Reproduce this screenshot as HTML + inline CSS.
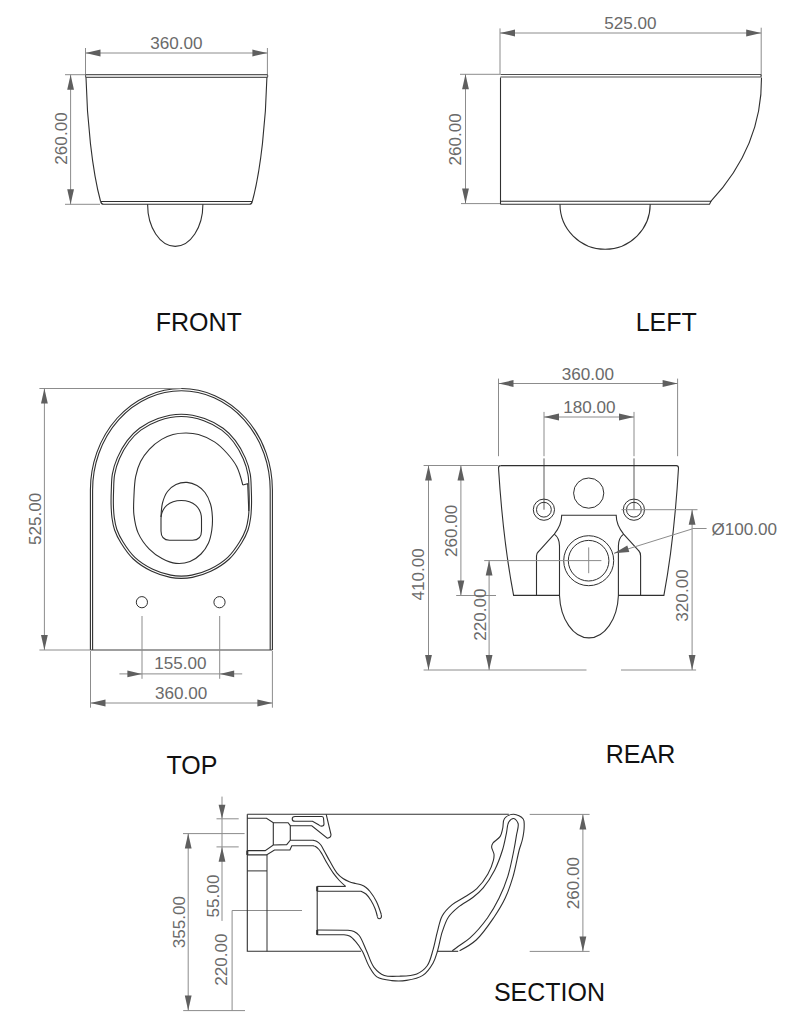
<!DOCTYPE html>
<html><head><meta charset="utf-8"><style>
html,body{margin:0;padding:0;background:#fff;}
svg{display:block;font-family:"Liberation Sans",sans-serif;}
</style></head><body>
<svg width="812" height="1024" viewBox="0 0 812 1024">
<rect width="812" height="1024" fill="#fff"/>
<line x1="85.5" y1="48" x2="85.5" y2="75" stroke="#8c8c8c" stroke-width="1"/>
<line x1="267.4" y1="48" x2="267.4" y2="75" stroke="#8c8c8c" stroke-width="1"/>
<line x1="85.5" y1="53" x2="267.4" y2="53" stroke="#8c8c8c" stroke-width="1"/>
<polygon points="85.5,53 100.5,56.4 100.5,49.6" fill="#5f5f5f"/>
<polygon points="267.4,53 252.4,49.6 252.4,56.4" fill="#5f5f5f"/>
<text x="176.3" y="48.8" font-size="17.1" fill="#6a6a6a" text-anchor="middle">360.00</text>
<line x1="65" y1="74.7" x2="86" y2="74.7" stroke="#8c8c8c" stroke-width="1"/>
<line x1="65" y1="204.3" x2="100" y2="204.3" stroke="#8c8c8c" stroke-width="1"/>
<line x1="70.6" y1="74.7" x2="70.6" y2="204.3" stroke="#8c8c8c" stroke-width="1"/>
<polygon points="70.6,74.7 67.2,89.7 74,89.7" fill="#5f5f5f"/>
<polygon points="70.6,204.3 74,189.3 67.2,189.3" fill="#5f5f5f"/>
<text x="0" y="0" font-size="17.1" fill="#6a6a6a" text-anchor="middle" transform="translate(67.3,138.5) rotate(-90)">260.00</text>
<path d="M86,74.5 L267,74.5 Q268.5,76 267,77.5 L86,77.5 Q85,76 86,74.5Z" stroke="#5a5a5a" stroke-width="1.1" fill="#d4d4d4" />
<path d="M86,77.5 C87,120 92,170 100.6,201.5" stroke="#303030" stroke-width="1.1" fill="none" />
<path d="M266.9,77.5 C265.9,120 260.9,170 252.3,201.5" stroke="#303030" stroke-width="1.1" fill="none" />
<path d="M100.6,201.5 L252.3,201.5" stroke="#303030" stroke-width="1.1" fill="none" />
<path d="M100.6,201.5 Q101.5,204.3 103.5,204.3 L249.5,204.3 Q251.5,204.3 252.3,201.5" stroke="#303030" stroke-width="1.1" fill="none" />
<path d="M147.6,204.3 A27.65,42.1 0 0 0 202.9,204.3" stroke="#303030" stroke-width="1.1" fill="none" />
<text x="198.8" y="331.3" font-size="25" fill="#111111" text-anchor="middle">FRONT</text>
<line x1="500" y1="28.4" x2="500" y2="74.3" stroke="#8c8c8c" stroke-width="1"/>
<line x1="761.2" y1="27.7" x2="761.2" y2="76.5" stroke="#8c8c8c" stroke-width="1"/>
<line x1="500" y1="33" x2="761.2" y2="33" stroke="#8c8c8c" stroke-width="1"/>
<polygon points="500,33 515,36.4 515,29.6" fill="#5f5f5f"/>
<polygon points="761.2,33 746.2,29.6 746.2,36.4" fill="#5f5f5f"/>
<text x="630.3" y="28.8" font-size="17.1" fill="#6a6a6a" text-anchor="middle">525.00</text>
<line x1="460" y1="74.3" x2="500" y2="74.3" stroke="#8c8c8c" stroke-width="1"/>
<line x1="461" y1="203.6" x2="500" y2="203.6" stroke="#8c8c8c" stroke-width="1"/>
<line x1="465.5" y1="74.3" x2="465.5" y2="203.6" stroke="#8c8c8c" stroke-width="1"/>
<polygon points="465.5,74.3 462.1,89.3 468.9,89.3" fill="#5f5f5f"/>
<polygon points="465.5,203.6 468.9,188.6 462.1,188.6" fill="#5f5f5f"/>
<text x="0" y="0" font-size="17.1" fill="#6a6a6a" text-anchor="middle" transform="translate(461.2,139.4) rotate(-90)">260.00</text>
<path d="M500.5,74.5 L760.5,74.5 Q762,75.8 760.5,77 L500.5,77" stroke="#505050" stroke-width="1.1" fill="none" />
<path d="M500.5,77.5 L500.5,204.3" stroke="#303030" stroke-width="1.1" fill="none" />
<path d="M761.5,77.5 C762,130 740,170 711,201.2" stroke="#303030" stroke-width="1.1" fill="none" />
<path d="M500.5,201.2 L711,201.2 L709.5,204.3 L500.5,204.3" stroke="#303030" stroke-width="1.1" fill="none" />
<path d="M560,204.3 A45.1,45 0 0 0 650.2,204.3" stroke="#303030" stroke-width="1.1" fill="none" />
<text x="666.2" y="331.4" font-size="25" fill="#111111" text-anchor="middle">LEFT</text>
<path d="M90.4,650 L90.4,490 A91,101.5 0 0 1 272.4,490 L272.4,650" stroke="#303030" stroke-width="1.1" fill="none" />
<path d="M92.6,650 L92.6,490 A88.8,99.3 0 0 1 270.2,490 L270.2,650" stroke="#303030" stroke-width="1.1" fill="none" />
<line x1="90.4" y1="650" x2="272.4" y2="650" stroke="#404040" stroke-width="1.2"/>
<path d="M181.3,414.2 C189.07,414.2 197.46,416.01 204.6,418.5 C211.32,420.84 217.81,424.39 223.1,428.3 C227.93,431.86 231.79,435.88 235.4,440.6 C239.26,445.65 242.79,452.11 245.3,457.9 C247.6,463.21 249.2,468.5 250.2,473.9 C251.18,479.2 251.08,484.73 251.3,490 C251.51,495.09 251.63,500.18 251.5,505 C251.37,509.49 251.2,513.77 250.6,518 C250.02,522.1 249.39,526.01 248,530 C246.49,534.34 244.35,538.58 241.6,543 C238.36,548.21 234.27,554.36 229.3,559 C224.09,563.87 217.18,568.2 210.8,571.3 C204.82,574.21 197.73,576.27 192.3,577.4 C188.21,578.25 184.97,578.4 181.3,578.4 C177.63,578.4 174.39,578.25 170.3,577.4 C164.87,576.27 157.78,574.21 151.8,571.3 C145.42,568.2 138.51,563.87 133.3,559 C128.33,554.36 124.24,548.21 121,543 C118.25,538.58 116.11,534.34 114.6,530 C113.21,526.01 112.58,522.1 112,518 C111.4,513.77 111.23,509.49 111.1,505 C110.97,500.18 111.09,495.09 111.3,490 C111.52,484.73 111.42,479.2 112.4,473.9 C113.4,468.5 115,463.21 117.3,457.9 C119.81,452.11 123.34,445.65 127.2,440.6 C130.81,435.88 134.67,431.86 139.5,428.3 C144.79,424.39 151.28,420.84 158,418.5 C165.14,416.01 173.53,414.2 181.3,414.2Z" stroke="#303030" stroke-width="1.1" fill="none" />
<path d="M181.3,416.5 C188.82,416.5 196.95,418.27 203.86,420.68 C210.36,422.94 216.65,426.39 221.76,430.17 C226.4,433.6 230.09,437.43 233.56,441.98 C237.31,446.89 240.76,453.2 243.2,458.83 C245.42,463.98 246.97,469.08 247.94,474.32 C248.89,479.5 248.79,484.92 249,490.1 C249.2,495.12 249.33,500.19 249.2,504.94 C249.08,509.35 248.91,513.56 248.32,517.68 C247.76,521.64 247.17,525.38 245.84,529.22 C244.38,533.4 242.32,537.48 239.67,541.75 C236.53,546.81 232.56,552.8 227.74,557.31 C222.69,562.03 215.98,566.23 209.78,569.24 C203.96,572.06 197.01,574.08 191.76,575.16 C187.86,575.97 184.79,576.1 181.3,576.1 C177.81,576.1 174.74,575.97 170.84,575.16 C165.59,574.08 158.64,572.06 152.82,569.24 C146.62,566.23 139.91,562.03 134.86,557.31 C130.04,552.8 126.07,546.81 122.93,541.75 C120.28,537.48 118.22,533.4 116.76,529.22 C115.43,525.38 114.84,521.64 114.28,517.68 C113.69,513.56 113.52,509.35 113.4,504.94 C113.27,500.19 113.4,495.12 113.6,490.1 C113.81,484.92 113.71,479.5 114.66,474.32 C115.63,469.08 117.18,463.98 119.4,458.83 C121.84,453.2 125.29,446.89 129.04,441.98 C132.51,437.43 136.2,433.6 140.84,430.17 C145.95,426.39 152.24,422.94 158.74,420.68 C165.65,418.27 173.78,416.5 181.3,416.5Z" stroke="#303030" stroke-width="1.1" fill="none" />
<path d="M242.8,485 C242.8,485 239.53,471.99 236.7,466.5 C234.08,461.41 230.51,457.11 226.8,453 C223.11,448.91 219.13,444.96 214.5,441.9 C209.73,438.75 203.59,435.95 198.5,434.5 C194.23,433.28 190.37,433.02 186.2,433 C181.88,432.98 177.16,433.39 173,434.5 C168.98,435.57 165.32,437.16 161.6,439.4 C157.4,441.93 152.83,445.55 149.3,449.3 C145.85,452.97 142.86,457.13 140.6,461.6 C138.3,466.15 136.82,470.97 135.7,476.4 C134.4,482.7 134.19,490.66 133.9,497.3 C133.64,503.33 133.23,508.78 133.9,514.6 C134.6,520.7 135.66,527.38 138.2,533.1 C140.77,538.89 145.07,544.74 149.3,549.1 C153.11,553.03 157.47,556.1 162,558.5 C166.39,560.82 171.28,562.92 176,563.4 C180.61,563.87 185.78,563.12 190,561.5 C194.09,559.93 197.92,557.08 201,554 C204.08,550.92 206.7,546.99 208.5,543 C210.31,538.99 211.15,534.37 211.8,530 C212.44,525.7 212.61,521.32 212.4,517 C212.18,512.66 211.75,508.11 210.5,504 C209.27,499.95 207.4,495.67 205,492.5 C202.81,489.61 200.01,487.18 197,485.5 C194.01,483.83 190.44,482.59 187,482.4 C183.44,482.2 179.26,482.97 176,484.5 C172.77,486.02 169.72,488.56 167.5,491.5 C165.13,494.64 163.59,498.89 162.5,503 C161.35,507.36 161,517 161,517" stroke="#303030" stroke-width="1.1" fill="none" />
<path d="M242.8,485 L247.7,483.7 L248.8,511" stroke="#303030" stroke-width="1.1" fill="none" />
<path d="M181.3,500.5 C193,500.5 201.5,507.5 201.5,519 L201.5,531 Q201.5,540.2 192.5,540.2 L169.5,540.2 Q161,540.2 161,531 L161,519 C161,507.5 169.5,500.5 181.3,500.5 Z" stroke="#303030" stroke-width="1.1" fill="none" />
<circle cx="141.9" cy="602.2" r="5.6" stroke="#303030" fill="none"/>
<circle cx="219.5" cy="602.2" r="5.6" stroke="#303030" fill="none"/>
<line x1="142" y1="616" x2="142" y2="678.8" stroke="#8c8c8c" stroke-width="1"/>
<line x1="219.7" y1="616" x2="219.7" y2="678.8" stroke="#8c8c8c" stroke-width="1"/>
<line x1="119.4" y1="673.9" x2="242.2" y2="673.9" stroke="#8c8c8c" stroke-width="1"/>
<polygon points="142,673.9 127.4,670.5 127.4,677.3" fill="#5f5f5f"/>
<polygon points="219.7,673.9 234.2,677.3 234.2,670.5" fill="#5f5f5f"/>
<text x="180.5" y="669.2" font-size="17.1" fill="#6a6a6a" text-anchor="middle">155.00</text>
<line x1="90.5" y1="651" x2="90.5" y2="707.7" stroke="#8c8c8c" stroke-width="1"/>
<line x1="272.4" y1="651" x2="272.4" y2="707.7" stroke="#8c8c8c" stroke-width="1"/>
<line x1="90.5" y1="703" x2="272.4" y2="703" stroke="#8c8c8c" stroke-width="1"/>
<polygon points="90.5,703 105.5,706.4 105.5,699.6" fill="#5f5f5f"/>
<polygon points="272.4,703 257.4,699.6 257.4,706.4" fill="#5f5f5f"/>
<text x="181.1" y="698.5" font-size="17.1" fill="#6a6a6a" text-anchor="middle">360.00</text>
<line x1="39.4" y1="388.5" x2="181.4" y2="388.5" stroke="#8c8c8c" stroke-width="1"/>
<line x1="39.4" y1="650" x2="90.4" y2="650" stroke="#8c8c8c" stroke-width="1"/>
<line x1="44.4" y1="388.5" x2="44.4" y2="650" stroke="#8c8c8c" stroke-width="1"/>
<polygon points="44.4,388.5 41,403.5 47.8,403.5" fill="#5f5f5f"/>
<polygon points="44.4,650 47.8,635 41,635" fill="#5f5f5f"/>
<text x="0" y="0" font-size="17.1" fill="#6a6a6a" text-anchor="middle" transform="translate(40.5,518.9) rotate(-90)">525.00</text>
<text x="191.9" y="773.8" font-size="25" fill="#111111" text-anchor="middle">TOP</text>
<line x1="498.5" y1="378.6" x2="498.5" y2="456.2" stroke="#8c8c8c" stroke-width="1"/>
<line x1="677.6" y1="378.6" x2="677.6" y2="456.2" stroke="#8c8c8c" stroke-width="1"/>
<line x1="498.5" y1="383.5" x2="677.6" y2="383.5" stroke="#8c8c8c" stroke-width="1"/>
<polygon points="498.5,383.5 513.5,386.9 513.5,380.1" fill="#5f5f5f"/>
<polygon points="677.6,383.5 662.6,380.1 662.6,386.9" fill="#5f5f5f"/>
<text x="588" y="380.2" font-size="17.1" fill="#6a6a6a" text-anchor="middle">360.00</text>
<line x1="544" y1="411.9" x2="544" y2="456.2" stroke="#8c8c8c" stroke-width="1"/>
<line x1="634" y1="411.9" x2="634" y2="456.2" stroke="#8c8c8c" stroke-width="1"/>
<line x1="544" y1="458.4" x2="544" y2="509.7" stroke="#5a5a5a" stroke-width="1"/>
<line x1="634" y1="458.4" x2="634" y2="509.7" stroke="#5a5a5a" stroke-width="1"/>
<line x1="544" y1="417" x2="634" y2="417" stroke="#8c8c8c" stroke-width="1"/>
<polygon points="544,417 559,420.4 559,413.6" fill="#5f5f5f"/>
<polygon points="634,417 619,413.6 619,420.4" fill="#5f5f5f"/>
<text x="589.5" y="413.4" font-size="17.1" fill="#6a6a6a" text-anchor="middle">180.00</text>
<path d="M500.5,465.6 L676.3,465.6 Q678.5,465.6 678.5,468 Q674.2,540 663.9,595.4 L618.4,595.4" stroke="#303030" stroke-width="1.1" fill="none" />
<path d="M500.5,465.6 Q498.5,465.6 498.5,468 Q503,540 513.6,595.4 L559.5,595.4" stroke="#303030" stroke-width="1.1" fill="none" />
<circle cx="543.9" cy="509.7" r="10.6" stroke="#303030" fill="none"/>
<circle cx="543.9" cy="509.7" r="7.4" stroke="#303030" fill="none"/>
<circle cx="633.9" cy="509.7" r="10.6" stroke="#303030" fill="none"/>
<circle cx="633.9" cy="509.7" r="7.4" stroke="#303030" fill="none"/>
<circle cx="588.7" cy="493.1" r="15.1" stroke="#303030" fill="none"/>
<circle cx="588.7" cy="560.7" r="25" stroke="#303030" fill="none"/>
<circle cx="588.6" cy="560.7" r="20.3" stroke="#303030" fill="none"/>
<path d="M536.5,595.4 L536.5,556 Q536.5,553.3 538.5,551.5 L554.3,534.1 Q561.7,525 561.7,515.3 L616.2,515.3 Q616.2,525 623.6,534.1 L638.6,550.5 Q640.6,552.5 640.6,556 L640.6,595.4" stroke="#303030" stroke-width="1.1" fill="none" />
<path d="M554.3,534.1 Q559.5,538 559.5,546 L559.5,595.4 A29.5,45.1 0 0 0 618.4,595.4 L618.4,546 Q618.4,538 623.6,534.1" stroke="#303030" stroke-width="1.1" fill="none" />
<line x1="484.2" y1="560.6" x2="601.4" y2="560.6" stroke="#8c8c8c" stroke-width="1"/>
<line x1="588.7" y1="547.4" x2="588.7" y2="573.2" stroke="#8c8c8c" stroke-width="1"/>
<line x1="423.6" y1="465.5" x2="498.5" y2="465.5" stroke="#8c8c8c" stroke-width="1"/>
<line x1="428.5" y1="465.5" x2="428.5" y2="670.1" stroke="#8c8c8c" stroke-width="1"/>
<polygon points="428.5,465.5 425.1,480.5 431.9,480.5" fill="#5f5f5f"/>
<polygon points="428.5,670.1 431.9,655.1 425.1,655.1" fill="#5f5f5f"/>
<line x1="460.9" y1="465.5" x2="460.9" y2="595.5" stroke="#8c8c8c" stroke-width="1"/>
<polygon points="460.9,465.5 457.5,480.5 464.3,480.5" fill="#5f5f5f"/>
<polygon points="460.9,595.5 464.3,580.5 457.5,580.5" fill="#5f5f5f"/>
<line x1="456.2" y1="595.5" x2="496" y2="595.5" stroke="#8c8c8c" stroke-width="1"/>
<line x1="489.1" y1="560.6" x2="489.1" y2="670.1" stroke="#8c8c8c" stroke-width="1"/>
<polygon points="489.1,560.6 485.7,575.6 492.5,575.6" fill="#5f5f5f"/>
<polygon points="489.1,670.1 492.5,655.1 485.7,655.1" fill="#5f5f5f"/>
<line x1="423.6" y1="670" x2="586.5" y2="670" stroke="#8c8c8c" stroke-width="1"/>
<line x1="621" y1="670" x2="696.1" y2="670" stroke="#8c8c8c" stroke-width="1"/>
<line x1="621.4" y1="509.7" x2="697.5" y2="509.7" stroke="#8c8c8c" stroke-width="1"/>
<line x1="692.1" y1="509.7" x2="692.1" y2="670" stroke="#8c8c8c" stroke-width="1"/>
<polygon points="692.1,509.7 688.7,524.7 695.5,524.7" fill="#5f5f5f"/>
<polygon points="692.1,670 695.5,655 688.7,655" fill="#5f5f5f"/>
<text x="0" y="0" font-size="17.1" fill="#6a6a6a" text-anchor="middle" transform="translate(424.2,574.3) rotate(-90)">410.00</text>
<text x="0" y="0" font-size="17.1" fill="#6a6a6a" text-anchor="middle" transform="translate(456.9,530.9) rotate(-90)">260.00</text>
<text x="0" y="0" font-size="17.1" fill="#6a6a6a" text-anchor="middle" transform="translate(485.7,614.7) rotate(-90)">220.00</text>
<text x="0" y="0" font-size="17.1" fill="#6a6a6a" text-anchor="middle" transform="translate(687.9,595.5) rotate(-90)">320.00</text>
<line x1="614" y1="553.3" x2="692.3" y2="528.9" stroke="#8c8c8c" stroke-width="1"/>
<line x1="692.3" y1="528.5" x2="706.6" y2="528.5" stroke="#8c8c8c" stroke-width="1"/>
<polygon points="614,553.3 629.31,552.1 627.29,545.6" fill="#5f5f5f"/>
<text x="744.2" y="534.7" font-size="17.1" fill="#6a6a6a" text-anchor="middle">&#216;100.00</text>
<text x="640.5" y="763.3" font-size="25" fill="#111111" text-anchor="middle">REAR</text>
<line x1="222" y1="796.6" x2="222" y2="920.9" stroke="#8c8c8c" stroke-width="1"/>
<polygon points="222,818.8 225.4,804.8 218.6,804.8" fill="#5f5f5f"/>
<polygon points="222,846.9 218.6,861.7 225.4,861.7" fill="#5f5f5f"/>
<line x1="216.5" y1="818.8" x2="238.7" y2="818.8" stroke="#8c8c8c" stroke-width="1"/>
<line x1="216.5" y1="846.9" x2="238.7" y2="846.9" stroke="#8c8c8c" stroke-width="1"/>
<line x1="183" y1="833.6" x2="244.6" y2="833.6" stroke="#8c8c8c" stroke-width="1"/>
<line x1="183.2" y1="1010.6" x2="245" y2="1010.6" stroke="#8c8c8c" stroke-width="1"/>
<line x1="188.2" y1="833.6" x2="188.2" y2="1010.6" stroke="#8c8c8c" stroke-width="1"/>
<polygon points="188.2,833.6 184.8,848.6 191.6,848.6" fill="#5f5f5f"/>
<polygon points="188.2,1010.6 191.6,995.6 184.8,995.6" fill="#5f5f5f"/>
<line x1="232.1" y1="910.5" x2="232.1" y2="1010.6" stroke="#8c8c8c" stroke-width="1"/>
<line x1="232.1" y1="910.5" x2="302" y2="910.5" stroke="#8c8c8c" stroke-width="1"/>
<text x="0" y="0" font-size="17.1" fill="#6a6a6a" text-anchor="middle" transform="translate(184.8,922.2) rotate(-90)">355.00</text>
<text x="0" y="0" font-size="17.1" fill="#6a6a6a" text-anchor="middle" transform="translate(218.5,896) rotate(-90)">55.00</text>
<text x="0" y="0" font-size="17.1" fill="#6a6a6a" text-anchor="middle" transform="translate(227.3,959.6) rotate(-90)">220.00</text>
<line x1="529.7" y1="814.4" x2="589.6" y2="814.4" stroke="#8c8c8c" stroke-width="1"/>
<line x1="529.7" y1="951.4" x2="589.6" y2="951.4" stroke="#8c8c8c" stroke-width="1"/>
<line x1="582.9" y1="814.4" x2="582.9" y2="951.4" stroke="#8c8c8c" stroke-width="1"/>
<polygon points="582.9,814.4 579.5,829.4 586.3,829.4" fill="#5f5f5f"/>
<polygon points="582.9,951.4 586.3,936.4 579.5,936.4" fill="#5f5f5f"/>
<text x="0" y="0" font-size="17.1" fill="#6a6a6a" text-anchor="middle" transform="translate(579.2,883.1) rotate(-90)">260.00</text>
<text x="549.5" y="1001.4" font-size="25" fill="#111111" text-anchor="middle">SECTION</text>
<path d="M247.3,814.3 L508.8,814.3" stroke="#303030" stroke-width="1.1" fill="none" />
<path d="M247.3,814.3 L247.3,951.3 L361,951.3" stroke="#303030" stroke-width="1.1" fill="none" />
<path d="M437.3,951.3 L458.2,951.3" stroke="#303030" stroke-width="1.1" fill="none" />
<path d="M247.3,818.3 L266.5,818.3 L273.3,822.7 L288.1,822.7 L290.3,825.7 L311.8,825.7 L327.3,838.3 Q331,838 331,834.6 L326.2,814.3" stroke="#303030" stroke-width="1.1" fill="none" />
<path d="M273.3,822.7 L273.3,845" stroke="#303030" stroke-width="1.1" fill="none" />
<path d="M290.3,825.7 L290.3,840.2" stroke="#303030" stroke-width="1.1" fill="none" />
<path d="M247.3,850.6 L265.2,850.6 L273.3,845 L286.7,844.6 L290.3,840.2 L313.3,840.2" stroke="#303030" stroke-width="1.1" fill="none" />
<path d="M247.3,854.9 L266.5,854.9 L274.5,850 L289.9,850 L291.8,845.7 L313.3,845.7" stroke="#303030" stroke-width="1.1" fill="none" />
<line x1="247.3" y1="850.6" x2="247.3" y2="854.9" stroke="#303030" stroke-width="2"/>
<line x1="247.3" y1="870.9" x2="267" y2="870.9" stroke="#303030" stroke-width="1"/>
<line x1="267" y1="854.9" x2="267" y2="951.3" stroke="#303030" stroke-width="1"/>
<path d="M295,816.5 L321.8,816.5 Q323.2,816.5 323.5,818 L324,824 Q324,826.1 321.5,826.1 Q320,826.1 319,825 L312.5,821.3 L295,821.3 Q292.2,821.3 292.2,819 Q292.2,816.5 295,816.5Z" stroke="#303030" stroke-width="1.1" fill="none" />
<path d="M313,840.2 C313,840.2 315.36,840.6 316.5,841.2 C317.87,841.92 319.32,843.11 320.5,844.5 C321.87,846.11 322.72,848.22 324,850.5 C325.67,853.46 327.56,857.24 329.6,860.8 C331.86,864.74 334.42,869.97 337,873.1 C338.94,875.45 340.87,877.04 343,878.5 C344.99,879.87 347.17,880.86 349.3,881.7 C351.34,882.51 353.44,882.95 355.5,883.5 C357.54,884.05 359.78,884.27 361.6,885 C363.24,885.65 364.63,886.46 366,887.5 C367.45,888.6 368.61,889.78 370,891.5 C372.01,893.99 374.57,897.76 376.4,901.4 C378.39,905.36 381.3,914.5 381.3,914.5" stroke="#303030" stroke-width="1.1" fill="none" />
<path d="M313,845.7 C313,845.7 314.65,846.02 315.5,846.5 C316.63,847.13 317.95,848.32 319,849.5 C320.14,850.78 320.91,852.2 322,854 C323.53,856.52 325.26,860.19 327.1,863.3 C329.02,866.55 331.14,870.12 333.3,873.1 C335.26,875.81 337.29,878.23 339.4,880.5 C341.4,882.64 345.6,886.4 345.6,886.4" stroke="#303030" stroke-width="1.1" fill="none" />
<path d="M317.2,886.4 L345.6,886.4" stroke="#303030" stroke-width="1.1" fill="none" />
<path d="M317.2,891.2 L361,891.2  C361,891.2 364.46,892.67 366,894 C367.84,895.59 369.52,898.12 371,900.5 C372.57,903.03 374.01,906.04 375.1,908.8 C376.11,911.37 377.4,916.5 377.4,916.5" stroke="#303030" stroke-width="1.1" fill="none" />
<path d="M381.3,914.5 Q382,918.8 379,918.8 Q377.6,918.6 377.4,916.5" stroke="#303030" stroke-width="1.1" fill="none" />
<path d="M317.2,886.4 L317.2,934.9" stroke="#303030" stroke-width="1.1" fill="none" />
<line x1="317.2" y1="886.4" x2="317.2" y2="891.2" stroke="#303030" stroke-width="2"/>
<path d="M317.2,930 L348,930.2  C348,930.2 352.16,930.65 354,931.5 C355.9,932.38 357.55,933.46 359.2,935.5 C361.88,938.81 364.16,945.76 366.6,951 C369.09,956.35 370.7,963.09 374,967.3 C376.82,970.9 380.28,973.89 384.3,975.4 C388.57,977.01 393.96,976.39 399.1,976.2 C404.75,975.99 411.9,975.94 416.8,973.9 C421.01,972.14 424.55,969.44 427.2,965.8 C430.23,961.63 431.42,955.18 433.1,949.6 C434.84,943.83 435.82,937.48 437.4,931.7 C438.9,926.19 439.71,920.31 442.3,915.7 C444.75,911.36 448.43,907.75 452.2,904.6 C455.99,901.44 460.86,899.48 465,896.8 C469.05,894.18 473.18,892.16 476.8,888.7 C480.91,884.78 485.07,879 487.9,874 C490.43,869.54 492.49,864.09 493.4,860.4 C493.99,858.01 494.23,856.41 494,854.3 C493.74,851.93 491.6,848.94 491.6,846.9 C491.6,845.46 491.96,844.5 492.8,843.2 C494.14,841.11 498.55,839.01 500.2,836.4 C501.71,834.02 502,831.23 502.7,828.4 C503.46,825.3 502.67,820.85 504.5,818.5 C506.33,816.14 510.62,814.25 513.7,814.3 C516.85,814.35 521.55,816.72 523.2,819 C524.55,820.86 524.19,823.29 524.2,826 C524.22,829.77 523.31,835.32 522.4,839.5 C521.58,843.26 520.36,845.68 519.2,850 C517.39,856.78 515.57,868.08 513.1,876.4 C510.81,884.12 508.37,891.36 505.1,898.3 C501.88,905.12 498.16,911.16 493.7,917.7 C488.7,925.04 482.46,934.27 476.2,940 C470.97,944.79 459.6,950.8 459.6,950.8" stroke="#303030" stroke-width="1.1" fill="none" />
<path d="M317.2,934.8 L344,934.8  C344,934.8 347.74,935.1 349.5,936 C351.61,937.08 353.57,939.21 355.5,941.4 C357.83,944.04 360.07,947.27 362.2,951 C364.83,955.62 366.86,962.71 369.6,967.3 C371.85,971.07 373.55,974.69 376.9,976.9 C380.67,979.39 386.73,980.02 391.7,980.6 C396.6,981.17 401.5,981.18 406.5,980.4 C411.86,979.56 418.33,978.39 422.8,975.4 C427.15,972.49 430.61,967.23 433.1,962.9 C435.3,959.06 436.12,955.49 437.5,951 C439.23,945.38 440.33,937.63 442.3,931.7 C444.07,926.39 445.69,921.19 448.5,917 C451.12,913.08 454.52,910.22 458.3,907.1 C462.58,903.57 468.76,900.64 473.1,897.2 C476.92,894.17 479.96,891.66 483.2,887.8 C487.19,883.04 491.4,876.44 494.6,870.2 C497.85,863.85 500.49,856.48 502.5,850 C504.29,844.24 505.28,838.33 506.4,833.3 C507.32,829.17 507.15,824.52 508.8,822 C509.99,820.18 512.18,818.33 513.7,818.5 C515.3,818.68 517.44,821.3 518.1,823.5 C518.97,826.4 517.14,830.92 516.5,835 C515.77,839.67 515.05,844.32 513.9,850 C512.37,857.58 510.41,868.11 507.8,876.4 C505.37,884.14 502.42,891.34 499,898.3 C495.66,905.09 492.15,911.37 487.6,917.7 C482.63,924.6 475.59,932.81 470,937.9 C465.85,941.67 461.25,944.11 458,946.5 C455.74,948.16 452.3,950.8 452.3,950.8" stroke="#303030" stroke-width="1.1" fill="none" />
<line x1="317.2" y1="930" x2="317.2" y2="934.8" stroke="#303030" stroke-width="2"/>
</svg></body></html>
